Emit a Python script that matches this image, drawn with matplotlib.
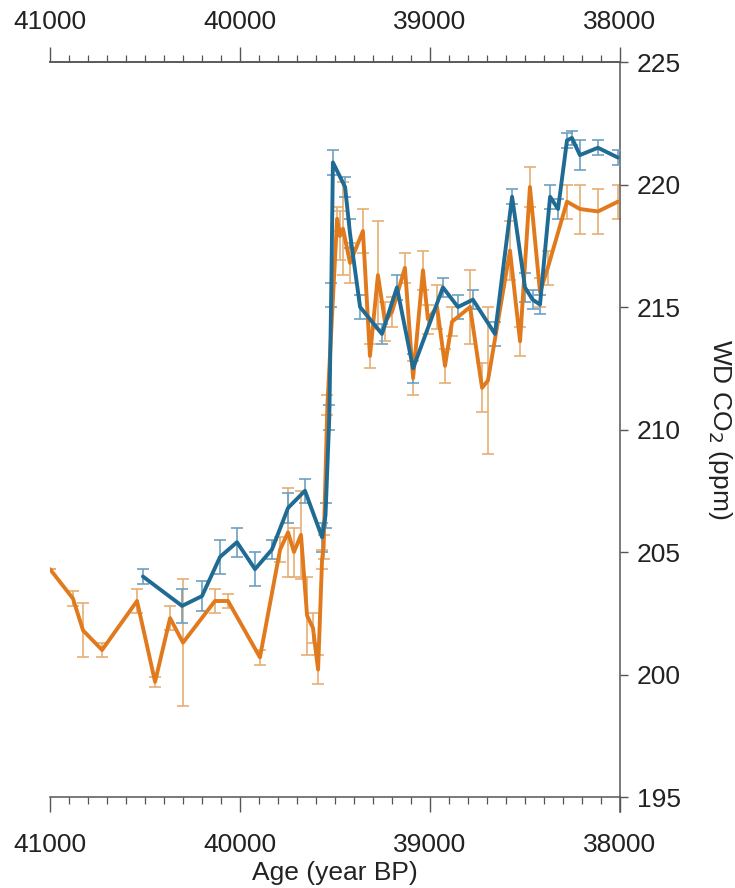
import matplotlib
matplotlib.use("Agg")
import matplotlib.pyplot as plt
import numpy as np
from matplotlib.ticker import MultipleLocator

# ---- data ----
orange_age = [41000, 40879, 40826, 40726, 40542, 40447, 40368, 40300, 40132, 40063,
              39895, 39789, 39747, 39716, 39679, 39647, 39616, 39589, 39568, 39560,
              39540, 39489, 39474, 39458, 39421, 39353, 39316, 39274, 39237, 39200,
              39132, 39089, 39037, 39011, 38963, 38921, 38884, 38789, 38726, 38695,
              38579, 38526, 38474, 38421, 38380, 38279, 38211, 38116, 38011]
orange_co2 = [204.3, 203.1, 201.8, 201.0, 203.0, 199.7, 202.3, 201.3, 203.0, 203.0,
              200.7, 205.1, 205.8, 205.0, 205.7, 202.4, 201.9, 200.2, 204.7, 205.2,
              211.0, 218.6, 217.9, 218.2, 216.8, 218.1, 213.0, 216.3, 214.4, 214.8,
              216.6, 212.1, 216.5, 214.5, 215.0, 212.6, 214.4, 215.0, 211.7, 212.0,
              217.3, 213.6, 219.9, 215.6, 216.6, 219.3, 219.0, 218.9, 219.3]
orange_err = [0.0, 0.3, 1.1, 0.3, 0.5, 0.2, 0.5, 2.6, 0.5, 0.3,
              0.3, 0.5, 1.8, 1.0, 1.8, 1.6, 0.6, 0.6, 0.4, 0.5,
              0.4, 0.5, 1.0, 1.9, 0.8, 0.9, 0.5, 2.2, 0.8, 0.6,
              0.6, 0.7, 0.8, 0.6, 0.9, 0.7, 0.6, 1.5, 1.0, 3.0,
              1.2, 0.6, 0.8, 0.6, 0.7, 0.7, 1.0, 0.9, 0.7]

blue_age = [40511, 40305, 40200, 40105, 40016, 39921, 39832, 39747, 39658, 39568,
            39550, 39530, 39520, 39511, 39447, 39421, 39368, 39253, 39174, 39089,
            38932, 38853, 38774, 38658, 38568, 38500, 38460, 38421, 38368, 38326,
            38279, 38253, 38211, 38116, 38011]
blue_co2 = [204.0, 202.8, 203.2, 204.8, 205.4, 204.3, 205.1, 206.8, 207.5, 205.6,
            206.5, 210.5, 215.5, 220.9, 219.9, 218.0, 215.0, 213.9, 215.8, 212.5,
            215.8, 215.0, 215.3, 213.9, 219.5, 215.8, 215.3, 215.1, 219.5, 219.0,
            221.8, 221.9, 221.2, 221.5, 221.1]
blue_err = [0.3, 0.7, 0.6, 0.7, 0.6, 0.7, 0.4, 0.6, 0.5, 0.6,
            0.5, 0.5, 0.5, 0.5, 0.4, 0.6, 0.5, 0.4, 0.5, 0.6,
            0.4, 0.5, 0.4, 0.5, 0.3, 0.6, 0.4, 0.4, 0.5, 0.4,
            0.3, 0.3, 0.6, 0.3, 0.3]

x_ticks = [41000, 40000, 39000, 38000]
y_ticks = [195, 200, 205, 210, 215, 220, 225]

BLUE = "#1f6b94"
ORANGE = "#e07a1c"
BLUE_EB = "#6a9fc0"
ORANGE_EB = "#e6ad72"
AXC = '#555555'
TXT = '#222222'

plt.rcParams['font.family'] = ['Liberation Sans', 'DejaVu Sans']

fig = plt.figure(figsize=(7.35, 8.88), dpi=100)
ax = fig.add_axes([50/735, 1-797/888, 570/735, 735/888])

ax.errorbar(orange_age, orange_co2, yerr=orange_err, fmt='none', ecolor=ORANGE_EB,
            elinewidth=1.3, capsize=4.5, capthick=1.3, alpha=0.9, zorder=2)
ax.errorbar(blue_age, blue_co2, yerr=blue_err, fmt='none', ecolor=BLUE_EB,
            elinewidth=1.3, capsize=4.5, capthick=1.3, alpha=0.9, zorder=3)
ax.plot(orange_age, orange_co2, color=ORANGE, lw=2.8, solid_joinstyle='round',
        solid_capstyle='round', zorder=4)
ax.plot(blue_age, blue_co2, color=BLUE, lw=2.8, solid_joinstyle='round',
        solid_capstyle='round', zorder=5)

ax.set_xlim(41000, 38000)
ax.set_ylim(195, 225)

ax.spines['left'].set_visible(False)
for s in ['top', 'bottom', 'right']:
    ax.spines[s].set_color(AXC)
    ax.spines[s].set_linewidth(1.1)
ax.spines['right'].set_bounds(194.4, 225)

# bottom axis
ax.set_xticks(x_ticks)
ax.xaxis.set_minor_locator(MultipleLocator(100))
ax.tick_params(axis='x', which='major', direction='out', length=11, width=1.0,
               color=AXC, labelsize=19, pad=15, top=False, labeltop=False,
               bottom=True, labelbottom=True, labelcolor=TXT)
ax.tick_params(axis='x', which='minor', direction='out', length=5, width=0.9,
               color=AXC, top=False, bottom=True)

# top axis
sec = ax.secondary_xaxis('top')
sec.set_xticks(x_ticks)
sec.xaxis.set_minor_locator(MultipleLocator(100))
sec.spines['top'].set_color(AXC)
sec.spines['top'].set_linewidth(1.1)
sec.tick_params(axis='x', which='major', direction='out', length=11, width=1.0,
                color=AXC, labelsize=19, pad=9, labelcolor=TXT)
sec.tick_params(axis='x', which='minor', direction='out', length=5, width=0.9,
                color=AXC)

# right axis
ax.yaxis.tick_right()
ax.yaxis.set_label_position('right')
ax.set_yticks(y_ticks)
ax.tick_params(axis='y', which='major', direction='out', length=6, width=1.0,
               color=AXC, labelsize=19, pad=6, left=False, right=True,
               labelleft=False, labelright=True, labelcolor=TXT)

ax.set_xlabel('Age (year BP)', fontsize=19, color=TXT, labelpad=3)
ax.set_ylabel('WD CO$_2$ (ppm)', fontsize=19, color=TXT, rotation=-90,
              labelpad=38)

fig.savefig('out.png', dpi=100, facecolor='white')
